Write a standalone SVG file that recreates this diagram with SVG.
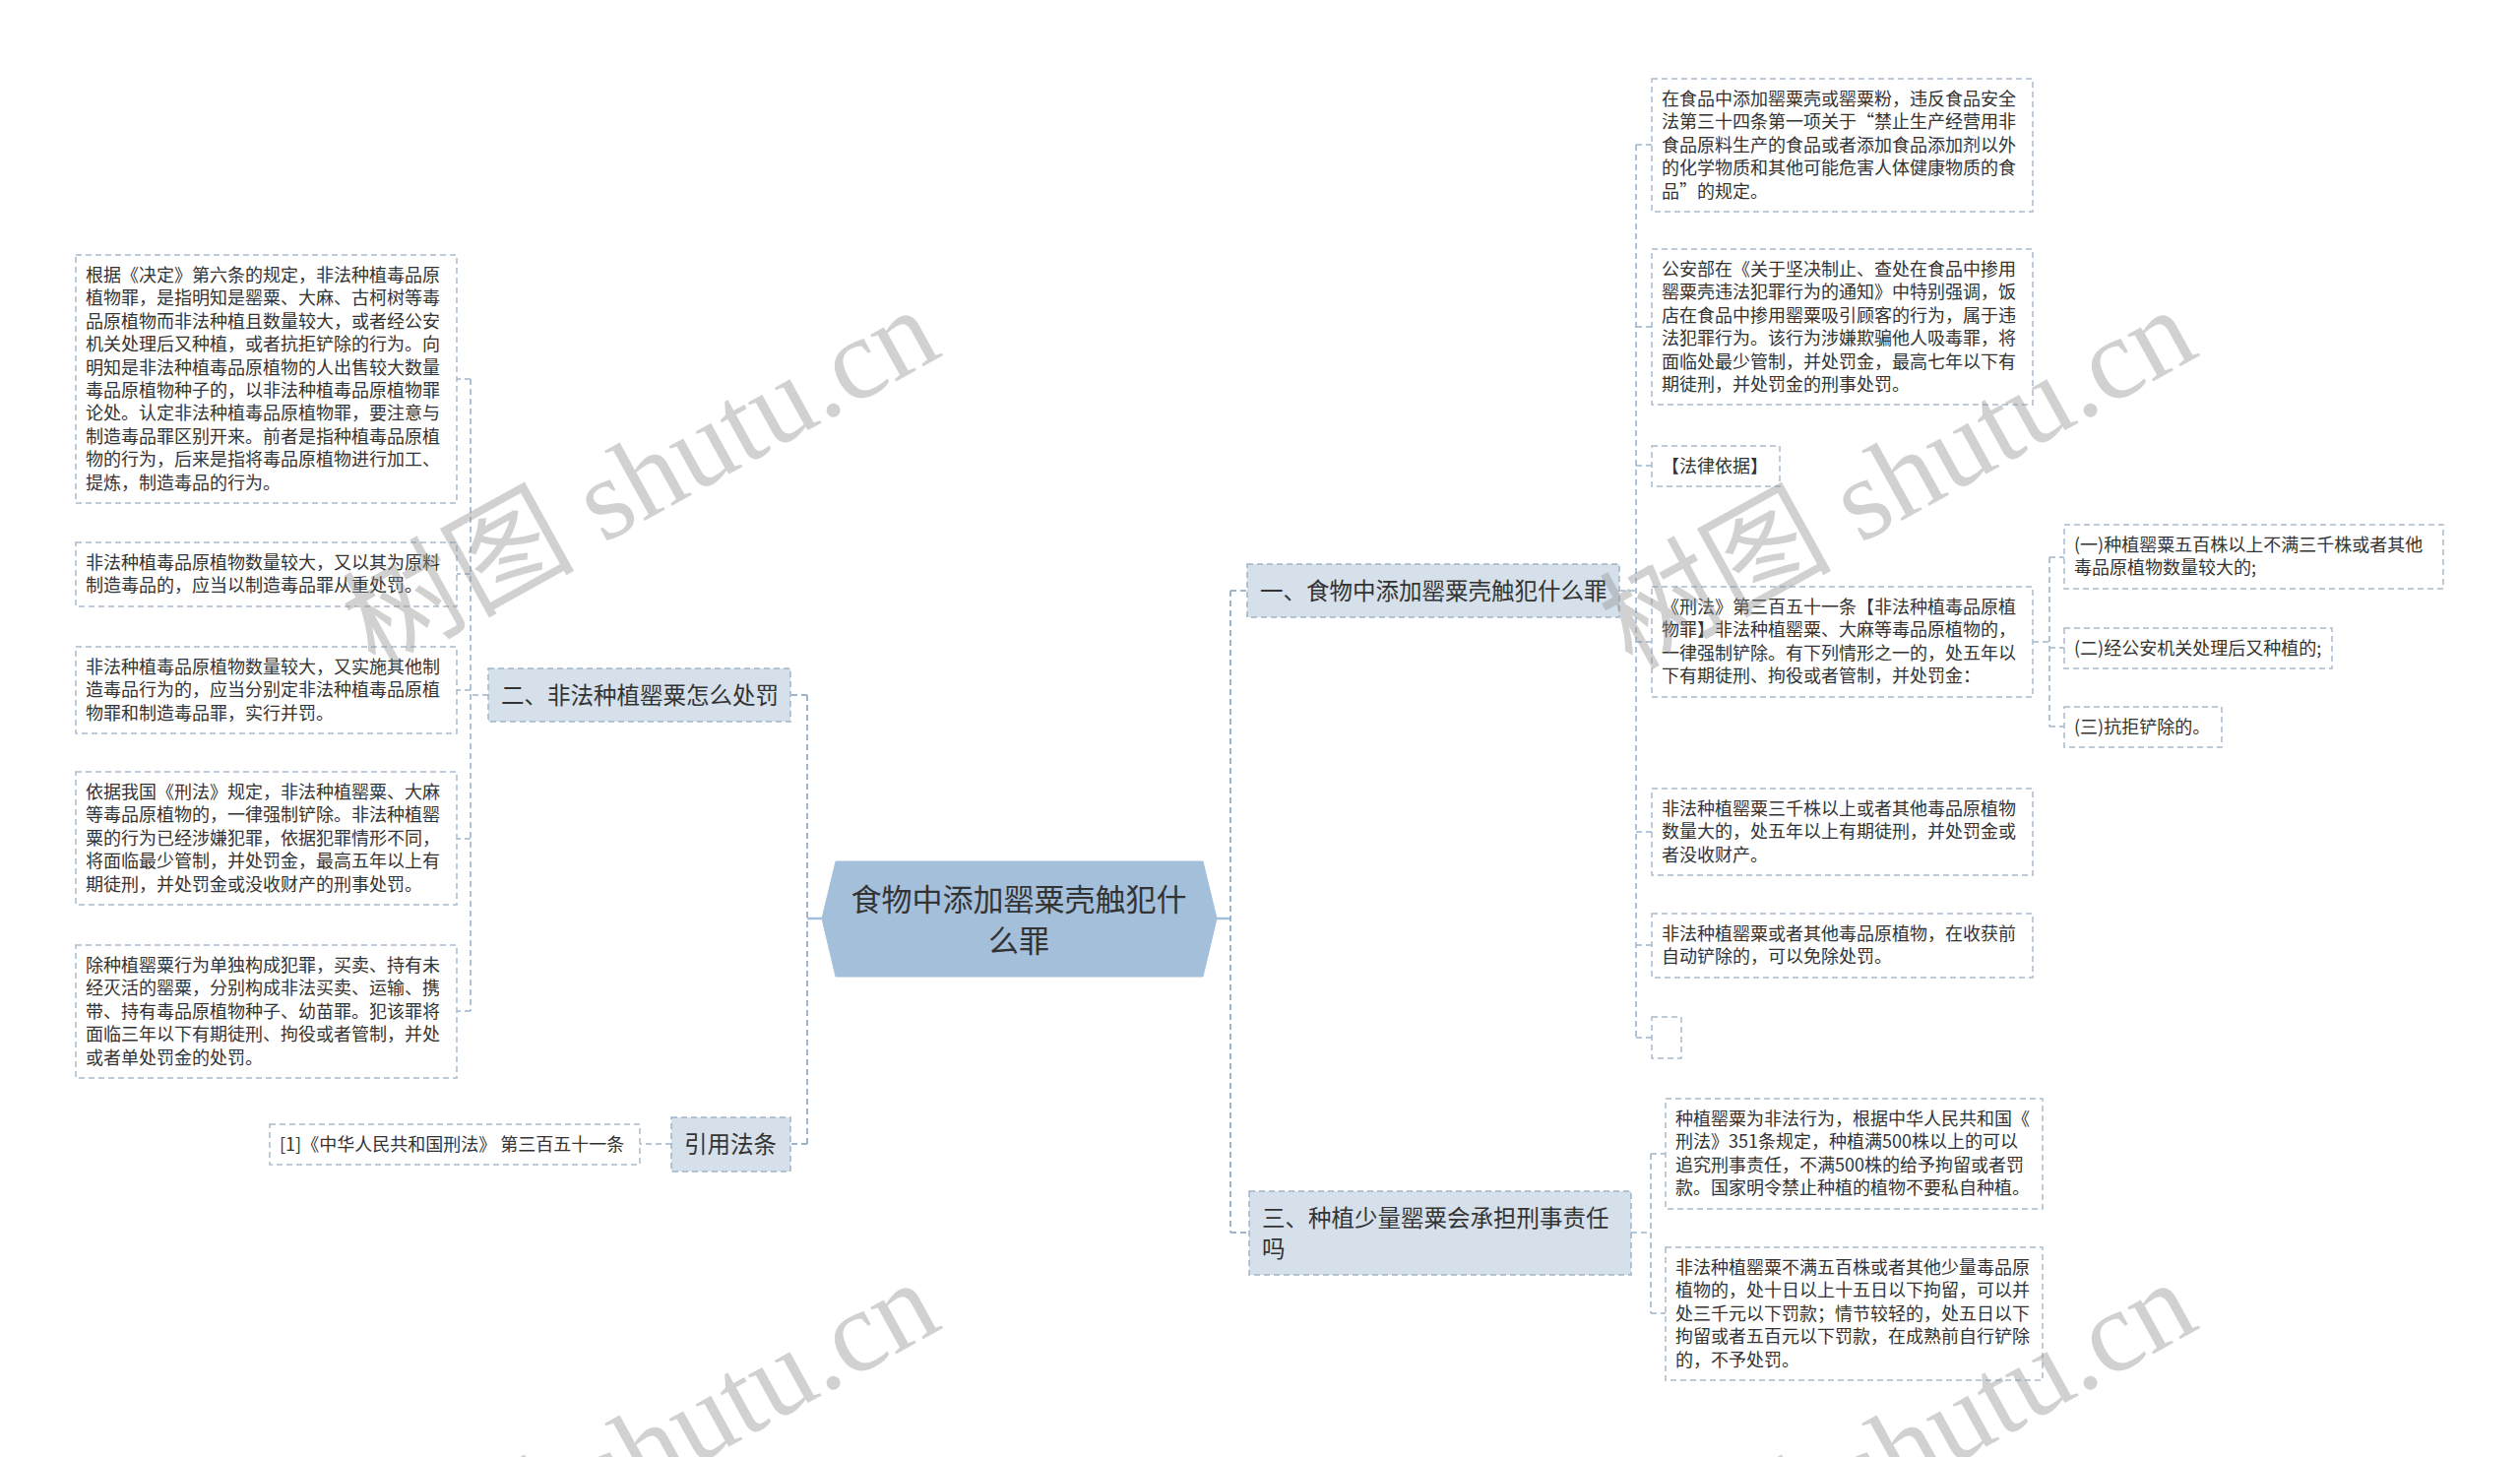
<svg xmlns="http://www.w3.org/2000/svg" width="2560" height="1480" viewBox="0 0 2560 1480">
<style>
.bg{fill:#ffffff}
.box{fill:#ffffff;stroke:#a9bccd;stroke-width:1.5;stroke-dasharray:6 4}
.branch{fill:#d5e0ea;stroke:#9fb4c8;stroke-width:1.5;stroke-dasharray:6 4}
.root{fill:#a3bfda;stroke:#a3bfda;stroke-width:1}
.t{font-family:"Noto Sans CJK SC","Noto Sans",sans-serif;font-size:18px;fill:#333333}
.bt{font-family:"Noto Sans CJK SC","Noto Sans",sans-serif;font-size:23.5px;fill:#333333}
.rt{font-family:"Noto Sans CJK SC","Noto Sans",sans-serif;font-size:31px;fill:#333333}
.edge{fill:none;stroke:#9db5cc;stroke-width:1.6;stroke-dasharray:6 4}
.trunk{fill:none;stroke:#9db5cc;stroke-width:2;stroke-dasharray:6 4}
.solid{fill:none;stroke:#a3bfda;stroke-width:2.5}
.wm{font-family:"Liberation Serif","Noto Sans CJK SC",serif;font-size:118px;fill:#8f8f8f;opacity:0.4}
</style>
<rect class="bg" x="0" y="0" width="2560" height="1480"/>

<g id="connectors">
  <path class="solid" d="M835 933 H820"/>
  <path class="solid" d="M1236 933 H1250"/>
  <path class="trunk" d="M820 706 V1162"/>
  <path class="trunk" d="M820 706 H803"/>
  <path class="trunk" d="M820 1162 H803"/>
  <path class="trunk" d="M1250 600 V1252"/>
  <path class="trunk" d="M1250 600 H1267"/>
  <path class="trunk" d="M1250 1252 H1269"/>
  <!-- branch 二 children -->
  <path class="edge" d="M496 706 H478"/>
  <path class="edge" d="M478 385 V1027"/>
  <path class="edge" d="M478 385 H464 M478 583 H464 M478 701 H464 M478 852 H464 M478 1027 H464"/>
  <!-- 引用法条 child -->
  <path class="edge" d="M682 1162 H650"/>
  <!-- branch 一 children -->
  <path class="edge" d="M1645 600 H1662"/>
  <path class="edge" d="M1662 147 V1054"/>
  <path class="edge" d="M1662 147 H1678 M1662 332 H1678 M1662 473 H1678 M1662 652 H1678 M1662 845 H1678 M1662 960 H1678 M1662 1054 H1678"/>
  <!-- 刑法 children -->
  <path class="edge" d="M2065 652 H2082"/>
  <path class="edge" d="M2082 566 V738"/>
  <path class="edge" d="M2082 566 H2097 M2082 658 H2097 M2082 738 H2097"/>
  <!-- branch 三 children -->
  <path class="edge" d="M1657 1252 H1677"/>
  <path class="edge" d="M1677 1172 V1334"/>
  <path class="edge" d="M1677 1172 H1692 M1677 1334 H1692"/>
</g>

<g id="root">
  <polygon class="root" points="835,933 849,875 1222,875 1236,933 1222,992 849,992"/>
  <text class="rt" text-anchor="middle"><tspan x="1035" y="925">食物中添加罂粟壳触犯什</tspan><tspan x="1035" y="967">么罪</tspan></text>
</g>

<g id="branch1">
  <rect class="branch" x="1267" y="573" width="378" height="54"/>
  <text class="bt" x="1280" y="609">一、食物中添加罂粟壳触犯什么罪</text>
</g>
<g id="branch2">
  <rect class="branch" x="496" y="679" width="307" height="54"/>
  <text class="bt" x="509" y="715">二、非法种植罂粟怎么处罚</text>
</g>
<g id="branch3">
  <rect class="branch" x="1269" y="1210" width="388" height="85"/>
  <text class="bt"><tspan x="1282" y="1246">三、种植少量罂粟会承担刑事责任</tspan><tspan x="1282" y="1277">吗</tspan></text>
</g>
<g id="branch-ref">
  <rect class="branch" x="682" y="1135" width="121" height="55"/>
  <text class="bt" x="695" y="1171">引用法条</text>
</g>

<g id="nodeA">
  <rect class="box" x="1678" y="80" width="387" height="135"/>
  <text class="t"><tspan x="1688" y="107">在食品中添加罂粟壳或罂粟粉，违反食品安全</tspan><tspan x="1688" dy="23.4">法第三十四条第一项关于“禁止生产经营用非</tspan><tspan x="1688" dy="23.4">食品原料生产的食品或者添加食品添加剂以外</tspan><tspan x="1688" dy="23.4">的化学物质和其他可能危害人体健康物质的食</tspan><tspan x="1688" dy="23.4">品”的规定。</tspan></text>
</g>
<g id="nodeB">
  <rect class="box" x="1678" y="253" width="387" height="158"/>
  <text class="t"><tspan x="1688" y="280">公安部在《关于坚决制止、查处在食品中掺用</tspan><tspan x="1688" dy="23.4">罂粟壳违法犯罪行为的通知》中特别强调，饭</tspan><tspan x="1688" dy="23.4">店在食品中掺用罂粟吸引顾客的行为，属于违</tspan><tspan x="1688" dy="23.4">法犯罪行为。该行为涉嫌欺骗他人吸毒罪，将</tspan><tspan x="1688" dy="23.4">面临处最少管制，并处罚金，最高七年以下有</tspan><tspan x="1688" dy="23.4">期徒刑，并处罚金的刑事处罚。</tspan></text>
</g>
<g id="nodeLaw">
  <rect class="box" x="1678" y="453" width="130" height="41"/>
  <text class="t" x="1688" y="480">【法律依据】</text>
</g>
<g id="nodeXingfa">
  <rect class="box" x="1678" y="596" width="387" height="112"/>
  <text class="t"><tspan x="1688" y="623">《刑法》第三百五十一条【非法种植毒品原植</tspan><tspan x="1688" dy="23.4">物罪】非法种植罂粟、大麻等毒品原植物的，</tspan><tspan x="1688" dy="23.4">一律强制铲除。有下列情形之一的，处五年以</tspan><tspan x="1688" dy="23.4">下有期徒刑、拘役或者管制，并处罚金：</tspan></text>
</g>
<g id="nodeX1">
  <rect class="box" x="2097" y="533" width="385" height="65"/>
  <text class="t"><tspan x="2107" y="560">(一)种植罂粟五百株以上不满三千株或者其他</tspan><tspan x="2107" dy="23.4">毒品原植物数量较大的;</tspan></text>
</g>
<g id="nodeX2">
  <rect class="box" x="2097" y="638" width="272" height="41"/>
  <text class="t" x="2107" y="665">(二)经公安机关处理后又种植的;</text>
</g>
<g id="nodeX3">
  <rect class="box" x="2097" y="718" width="160" height="41"/>
  <text class="t" x="2107" y="745">(三)抗拒铲除的。</text>
</g>
<g id="nodeC">
  <rect class="box" x="1678" y="801" width="387" height="88"/>
  <text class="t"><tspan x="1688" y="828">非法种植罂粟三千株以上或者其他毒品原植物</tspan><tspan x="1688" dy="23.4">数量大的，处五年以上有期徒刑，并处罚金或</tspan><tspan x="1688" dy="23.4">者没收财产。</tspan></text>
</g>
<g id="nodeD">
  <rect class="box" x="1678" y="928" width="387" height="65"/>
  <text class="t"><tspan x="1688" y="955">非法种植罂粟或者其他毒品原植物，在收获前</tspan><tspan x="1688" dy="23.4">自动铲除的，可以免除处罚。</tspan></text>
</g>
<g id="nodeEmpty">
  <rect class="box" x="1678" y="1033" width="30" height="42"/>
</g>
<g id="nodeE">
  <rect class="box" x="1692" y="1116" width="383" height="112"/>
  <text class="t"><tspan x="1702" y="1143">种植罂粟为非法行为，根据中华人民共和国《</tspan><tspan x="1702" dy="23.4">刑法》351条规定，种植满500株以上的可以</tspan><tspan x="1702" dy="23.4">追究刑事责任，不满500株的给予拘留或者罚</tspan><tspan x="1702" dy="23.4">款。国家明令禁止种植的植物不要私自种植。</tspan></text>
</g>
<g id="nodeF">
  <rect class="box" x="1692" y="1267" width="383" height="135"/>
  <text class="t"><tspan x="1702" y="1294">非法种植罂粟不满五百株或者其他少量毒品原</tspan><tspan x="1702" dy="23.4">植物的，处十日以上十五日以下拘留，可以并</tspan><tspan x="1702" dy="23.4">处三千元以下罚款；情节较轻的，处五日以下</tspan><tspan x="1702" dy="23.4">拘留或者五百元以下罚款，在成熟前自行铲除</tspan><tspan x="1702" dy="23.4">的，不予处罚。</tspan></text>
</g>
<g id="nodeG">
  <rect class="box" x="77" y="259" width="387" height="252"/>
  <text class="t"><tspan x="87" y="286">根据《决定》第六条的规定，非法种植毒品原</tspan><tspan x="87" dy="23.4">植物罪，是指明知是罂粟、大麻、古柯树等毒</tspan><tspan x="87" dy="23.4">品原植物而非法种植且数量较大，或者经公安</tspan><tspan x="87" dy="23.4">机关处理后又种植，或者抗拒铲除的行为。向</tspan><tspan x="87" dy="23.4">明知是非法种植毒品原植物的人出售较大数量</tspan><tspan x="87" dy="23.4">毒品原植物种子的，以非法种植毒品原植物罪</tspan><tspan x="87" dy="23.4">论处。认定非法种植毒品原植物罪，要注意与</tspan><tspan x="87" dy="23.4">制造毒品罪区别开来。前者是指种植毒品原植</tspan><tspan x="87" dy="23.4">物的行为，后来是指将毒品原植物进行加工、</tspan><tspan x="87" dy="23.4">提炼，制造毒品的行为。</tspan></text>
</g>
<g id="nodeH">
  <rect class="box" x="77" y="551" width="387" height="65"/>
  <text class="t"><tspan x="87" y="578">非法种植毒品原植物数量较大，又以其为原料</tspan><tspan x="87" dy="23.4">制造毒品的，应当以制造毒品罪从重处罚。</tspan></text>
</g>
<g id="nodeI">
  <rect class="box" x="77" y="657" width="387" height="88"/>
  <text class="t"><tspan x="87" y="684">非法种植毒品原植物数量较大，又实施其他制</tspan><tspan x="87" dy="23.4">造毒品行为的，应当分别定非法种植毒品原植</tspan><tspan x="87" dy="23.4">物罪和制造毒品罪，实行并罚。</tspan></text>
</g>
<g id="nodeJ">
  <rect class="box" x="77" y="784" width="387" height="135"/>
  <text class="t"><tspan x="87" y="811">依据我国《刑法》规定，非法种植罂粟、大麻</tspan><tspan x="87" dy="23.4">等毒品原植物的，一律强制铲除。非法种植罂</tspan><tspan x="87" dy="23.4">粟的行为已经涉嫌犯罪，依据犯罪情形不同，</tspan><tspan x="87" dy="23.4">将面临最少管制，并处罚金，最高五年以上有</tspan><tspan x="87" dy="23.4">期徒刑，并处罚金或没收财产的刑事处罚。</tspan></text>
</g>
<g id="nodeK">
  <rect class="box" x="77" y="960" width="387" height="135"/>
  <text class="t"><tspan x="87" y="987">除种植罂粟行为单独构成犯罪，买卖、持有未</tspan><tspan x="87" dy="23.4">经灭活的罂粟，分别构成非法买卖、运输、携</tspan><tspan x="87" dy="23.4">带、持有毒品原植物种子、幼苗罪。犯该罪将</tspan><tspan x="87" dy="23.4">面临三年以下有期徒刑、拘役或者管制，并处</tspan><tspan x="87" dy="23.4">或者单处罚金的处罚。</tspan></text>
</g>
<g id="nodeRef">
  <rect class="box" x="274" y="1142" width="376" height="41"/>
  <text class="t" x="284" y="1169">[1]《中华人民共和国刑法》 第三百五十一条</text>
</g>

<g id="watermark">
  <text class="wm" text-anchor="middle" transform="translate(653 490) rotate(-29)" y="35">树图 shutu.cn</text>
  <text class="wm" text-anchor="middle" transform="translate(1930 490) rotate(-29)" y="35">树图 shutu.cn</text>
  <text class="wm" text-anchor="middle" transform="translate(653 1478) rotate(-29)" y="35">树图 shutu.cn</text>
  <text class="wm" text-anchor="middle" transform="translate(1930 1478) rotate(-29)" y="35">树图 shutu.cn</text>
</g>
</svg>
